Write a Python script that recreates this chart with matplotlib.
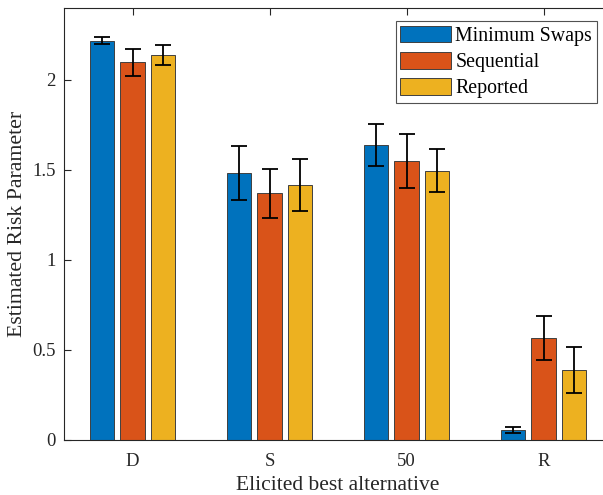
import numpy as np
import matplotlib.pyplot as plt

plt.rcParams['font.family'] = ['Liberation Serif', 'DejaVu Serif']

# best alternative categories and estimated risk parameters
categories = ['D', 'S', '50', 'R']
series_names = ['Minimum Swaps', 'Sequential', 'Reported']
min_swaps = [2.218, 1.485, 1.641, 0.056]
sequential = [2.098, 1.370, 1.550, 0.567]
reported = [2.139, 1.415, 1.496, 0.389]
# error bar half-widths
min_swaps_err = [0.020, 0.150, 0.117, 0.018]
sequential_err = [0.076, 0.136, 0.149, 0.122]
reported_err = [0.053, 0.145, 0.120, 0.126]

colors = ['#0072BD', '#D95319', '#EDB120']

fig = plt.figure(figsize=(6.03, 4.95), dpi=100)
ax = fig.add_axes([64 / 603, 1 - 440 / 495, (612 - 64) / 603, (440 - 8) / 495])

x = np.arange(1, len(categories) + 1)
offsets = [-0.2222, 0.0, 0.2222]
width = 0.18
values = [min_swaps, sequential, reported]
errors = [min_swaps_err, sequential_err, reported_err]

for i in range(3):
    ax.bar(x + offsets[i], values[i], width, color=colors[i], edgecolor='#404040',
           linewidth=0.7, label=series_names[i], zorder=2)
    ax.errorbar(x + offsets[i], values[i], yerr=errors[i], fmt='none', ecolor='black',
                elinewidth=1.3, capsize=5.5, capthick=1.3, zorder=3)

ax.set_xlim(0.5, 4.5)
ax.set_ylim(0, 2.4)
ax.set_xticks(x)
ax.set_xticklabels(categories)
ax.set_yticks([0, 0.5, 1, 1.5, 2])
ax.set_yticklabels(['0', '0.5', '1', '1.5', '2'])
ax.tick_params(direction='in', top=True, right=True, labelsize=13.5, length=5,
               width=0.8, color='#262626', labelcolor='#262626')
ax.tick_params(axis='x', pad=9)
ax.tick_params(axis='y', pad=6)
for s in ax.spines.values():
    s.set_color('#262626')
    s.set_linewidth(0.8)

ax.set_xlabel('Elicited best alternative', fontsize=15.5, color='#262626', labelpad=5)
ax.set_ylabel('Estimated Risk Parameter', fontsize=15.7, color='#262626', labelpad=4)

leg = ax.legend(loc='upper right', bbox_to_anchor=(597 / 603, 1 - 21 / 495),
                bbox_transform=fig.transFigure, fontsize=14.3, frameon=True,
                fancybox=False, edgecolor='#262626', handlelength=2.56,
                handleheight=0.9, handletextpad=0.2, borderpad=0.25,
                labelspacing=0.3, borderaxespad=0)
leg.get_frame().set_linewidth(0.8)

fig.savefig('out.png', dpi=100)
